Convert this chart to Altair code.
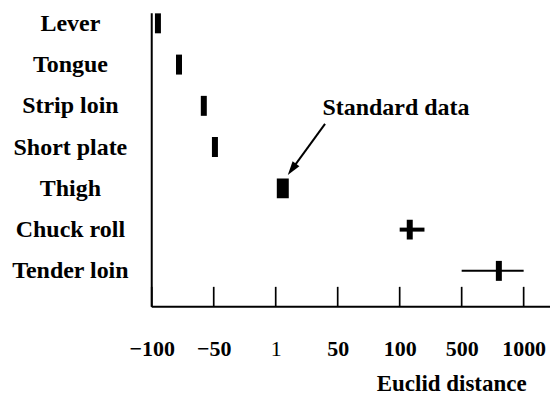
import altair as alt
import pandas as pd

# ---- data ----
parts = ["Lever", "Tongue", "Strip loin", "Short plate", "Thigh", "Chuck roll", "Tender loin"]
distance = [-95, -78, -58, -49, 6.6, 165, 800]
standard_part = "Thigh"
err_parts = ["Chuck roll", "Tender loin"]
err_low = [100, 500]
err_high = [260, 1000]
tick_values = [-100, -50, 1, 50, 100, 500, 1000]
annotation_text = ["Standard data"]
annotation_x = [97]
annotation_part = ["Strip loin"]
arrow_from_x = [40]
arrow_from_part = ["Strip loin"]
arrow_to_x = [13.8]
arrow_to_part = ["Thigh"]

# ---- layout ----
W, H = 399, 294
STEP = 62.1
FONT = "Liberation Serif"

df = pd.DataFrame({"part": parts, "distance": distance})
err_df = pd.DataFrame({"part": err_parts, "lo": err_low, "hi": err_high})
tick_df = pd.DataFrame({"v": tick_values})
one = pd.DataFrame({"a": [0]})
ann_df = pd.DataFrame({"x": annotation_x, "part": annotation_part, "label": annotation_text})
arrow_df = pd.DataFrame({"x": arrow_from_x, "part": arrow_from_part,
                         "x2": arrow_to_x, "part2": arrow_to_part})

xscale = alt.Scale(type="linear", domain=tick_values,
                   range=[i * STEP for i in range(len(tick_values))],
                   nice=False, zero=False)
yscale = alt.Scale(type="point", domain=parts, range=[10, 258], padding=0)

x_axis = alt.Axis(
    values=tick_values, format="d", ticks=False, tickSize=0, domain=False, grid=False,
    labelFont=FONT, labelFontSize=22, labelColor="black",
    labelFontWeight={"condition": {"test": "datum.value == 1", "value": "normal"}, "value": "bold"},
    labelPadding=32, labelFlush=False, labelOverlap=False, labelBound=False,
    title="Euclid distance", titleFont=FONT, titleFontSize=23, titleFontWeight="bold",
    titleColor="black", titleX=300, titleY=84, titleAlign="center", titleBaseline="alphabetic",
)
y_axis = alt.Axis(
    domain=False, ticks=False, tickSize=0, grid=False, title=None,
    labelFont=FONT, labelFontSize=24, labelFontWeight="bold", labelColor="black",
    labelAlign="center", labelBaseline="middle", labelPadding=82,
)


def X(field):
    return alt.X(field, scale=xscale, axis=x_axis)


def Y(field):
    return alt.Y(field, scale=yscale, axis=y_axis)


# axis lines
y_line = alt.Chart(one).mark_rule(color="black", strokeWidth=2).encode(
    x=alt.value(0), y=alt.value(0), y2=alt.value(H))
x_line = alt.Chart(one).mark_rule(color="black", strokeWidth=2).encode(
    x=alt.value(0), x2=alt.value(W), y=alt.value(H))

# inward ticks
ticks = alt.Chart(tick_df).mark_rule(color="black", strokeWidth=1.7).encode(
    x=X("v:Q"), y=alt.value(H - 20), y2=alt.value(H))

# error bars
errs = alt.Chart(err_df).mark_rule(color="black").encode(
    x=X("lo:Q"), x2="hi:Q",
    y=Y("part:N"),
    strokeWidth=alt.condition(alt.datum.part == "Chuck roll", alt.value(4), alt.value(2)),
)

# thin bars
thin = alt.Chart(df).transform_filter(alt.datum.part != standard_part).mark_tick(
    thickness=6, size=20, color="black", opacity=1).encode(
    x=X("distance:Q"), y=Y("part:N"))

# standard (thick) bar
std = alt.Chart(df).transform_filter(alt.datum.part == standard_part).mark_tick(
    thickness=12, size=20, color="black", opacity=1).encode(
    x=X("distance:Q"), y=Y("part:N"))

# annotation
text = alt.Chart(ann_df).mark_text(font=FONT, fontSize=24, fontWeight="bold", color="black",
                                   align="center", baseline="alphabetic", dy=9).encode(
    x=X("x:Q"), y=Y("part:N"), text="label:N")
arrow = alt.Chart(arrow_df).mark_rule(color="black", strokeWidth=2, yOffset=18, y2Offset=-19).encode(
    x=X("x:Q"), x2="x2:Q", y=Y("part:N"), y2="part2:N")
head = alt.Chart(arrow_df).mark_point(shape="M0,-1L0.6,1L-0.6,1Z", angle=216, size=196,
                                      filled=True, color="black", opacity=1, strokeWidth=0,
                                      yOffset=-19).encode(
    x=X("x2:Q"), y=Y("part2:N"))

chart = alt.layer(y_line, x_line, ticks, errs, thin, std, text, arrow, head).properties(
    width=W, height=H,
    background="white",
    autosize=alt.AutoSizeParams(type="none"),
    padding={"left": 144, "top": 5, "right": 0, "bottom": 89},
).configure_view(stroke=None)

chart.save("out.html", embed_options={"renderer": "svg", "actions": False})
